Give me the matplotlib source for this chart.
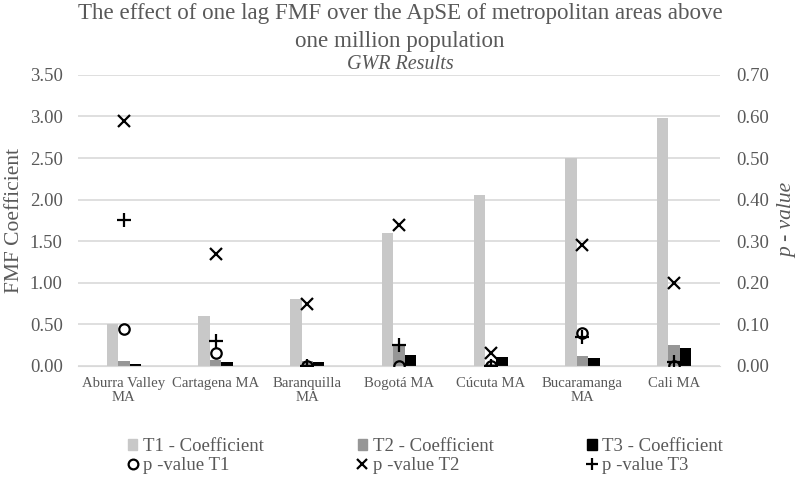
import numpy as np
import matplotlib.pyplot as plt
from matplotlib.lines import Line2D
from matplotlib.patches import Patch

# Data
areas = ['Aburra Valley\nMA', 'Cartagena MA', 'Baranquilla\nMA', 'Bogotá MA',
         'Cúcuta MA', 'Bucaramanga\nMA', 'Cali MA']
coef_t1 = [0.50, 0.60, 0.80, 1.60, 2.05, 2.50, 2.98]
coef_t2 = [0.06, 0.07, 0.06, 0.25, 0.02, 0.12, 0.25]
coef_t3 = [0.02, 0.05, 0.05, 0.13, 0.11, 0.10, 0.21]
pval_t1 = [0.09, 0.03, 0.00, 0.00, 0.00, 0.08, 0.00]
pval_t2 = [0.59, 0.27, 0.15, 0.34, 0.03, 0.29, 0.20]
pval_t3 = [0.35, 0.06, 0.00, 0.05, 0.00, 0.07, 0.01]

plt.rcParams['font.family'] = ['Liberation Serif', 'DejaVu Serif']
txt = '#595959'
c1, c2, c3 = '#c8c8c8', '#969696', '#000000'

fig = plt.figure(figsize=(8, 4.86), dpi=100)
ax = fig.add_axes([0.0975, 0.247, 0.8025, 0.599])
ax2 = ax.twinx()

x = np.arange(len(areas))
w = 0.125
ax.bar(x - w, coef_t1, w, color=c1, zorder=2)
ax.bar(x, coef_t2, w, color=c2, zorder=2)
ax.bar(x + w, coef_t3, w, color=c3, zorder=2)

ax2.plot(x, pval_t1, 'o', mfc='none', mec='black', mew=1.6, ms=7.5, ls='none')
ax2.plot(x, pval_t2, 'x', color='black', mew=1.6, ms=9, ls='none')
ax2.plot(x, pval_t3, '+', color='black', mew=1.6, ms=10, ls='none')

ax.set_xlim(-0.5, len(areas) - 0.5)
ax.set_ylim(0, 3.5)
ax2.set_ylim(0, 0.7)
ax.set_yticks(np.arange(0, 3.51, 0.5))
ax2.set_yticks(np.arange(0, 0.71, 0.1))
ax.set_yticklabels([f'{v:.2f}' for v in np.arange(0, 3.51, 0.5)])
ax2.set_yticklabels([f'{v:.2f}' for v in np.arange(0, 0.71, 0.1)])
ax.set_xticks(x)
ax.set_xticklabels(areas, color=txt, linespacing=1.05)

ax.grid(axis='y', color='#d9d9d9', lw=1.2, zorder=0)
ax.set_axisbelow(True)
for a in (ax, ax2):
    for s in a.spines.values():
        s.set_visible(False)
    a.tick_params(length=0, colors=txt, labelsize=13.5)
ax.spines['bottom'].set_visible(True)
ax.spines['bottom'].set_color('#d9d9d9')
ax.tick_params(axis='x', pad=8, labelsize=10.6)
ax.tick_params(axis='y', pad=11)
ax2.tick_params(axis='y', pad=12)

ax.set_ylabel('FMF Coefficient', fontsize=15.5, color=txt, labelpad=4)
ax2.set_ylabel('p - value', fontsize=15.5, color=txt, style='italic', labelpad=6)

fig.text(0.5, 1 - 27.5 / 486, 'The effect of one lag FMF over the ApSE of metropolitan areas above\none million population',
         ha='center', va='center', fontsize=16.6, color=txt, linespacing=1.45)
fig.text(0.5, 1 - 64 / 486, 'GWR Results', ha='center', va='center', fontsize=14.5, color=txt, style='italic')

handles = [Patch(color=c1, label='T1 - Coefficient'),
           Line2D([], [], marker='o', mfc='none', mec='black', mew=1.6, ls='none', ms=7, label='p -value T1'),
           Patch(color=c2, label='T2 - Coefficient'),
           Line2D([], [], marker='x', color='black', mew=1.6, ls='none', ms=7, label='p -value T2'),
           Patch(color=c3, label='T3 - Coefficient'),
           Line2D([], [], marker='+', color='black', mew=1.6, ls='none', ms=9, label='p -value T3')]
leg = fig.legend(handles=handles, ncol=3, loc='center', bbox_to_anchor=(0.532, 1 - 456 / 486),
                 frameon=False, fontsize=13.5, handlelength=0.5, handleheight=0.5, handletextpad=0.3,
                 columnspacing=5.0, labelspacing=0.1, borderpad=0)
for t in leg.get_texts():
    t.set_color(txt)

fig.savefig('out.png', dpi=100)
